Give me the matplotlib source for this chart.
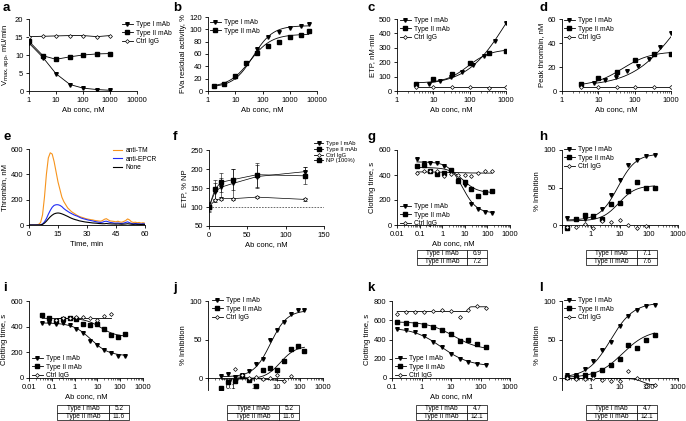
import numpy as np
import matplotlib
matplotlib.use("Agg")
import matplotlib.pyplot as plt
from matplotlib.lines import Line2D

plt.rcParams['font.family'] = ['Liberation Sans', 'DejaVu Sans']
plt.rcParams['font.size'] = 5.5
plt.rcParams['axes.linewidth'] = 0.6

W, H = 686, 421

# ---------------- data ----------------
# a
a_x = [1, 3.3, 10, 33, 100, 330, 1000]
a_t1 = [13.3, 9.3, 4.8, 1.8, 0.8, 0.4, 0.2]
a_t2 = [13.8, 9.8, 8.8, 9.5, 10.0, 10.3, 10.4]
a_ct = [15.1, 15.2, 15.3, 15.4, 15.4, 15.1, 15.4]

# b
b_x = [1.6, 4, 10, 25, 63, 160, 400, 1000, 2500, 5000]
b_t1 = [8, 12, 22, 45, 68, 87, 96, 102, 105, 108]
b_t2 = [8, 11, 25, 46, 61, 73, 80, 87, 91, 97]
b_fit1 = [6, 106, 45, 1.2]   # start, end, mid, hill
b_fit2 = [6, 92, 35, 1.1]

# c / d
cd_x1 = [7.8, 15.6, 31.25, 62.5, 125, 250, 500, 1000]
cd_x2 = [3.3, 10, 33, 100, 330, 1000]
c_t1 = [50, 70, 95, 130, 180, 245, 350, 470]
c_t2 = [50, 80, 120, 195, 265, 275]
c_ct = [25, 25, 28, 25, 22, 25]
c_fit1 = [40, 900, 1000, 0.8]
c_fit2 = [55, 290, 90, 1.4]
d_t1 = [6.5, 9, 12, 17, 21, 27, 37, 48]
d_t2 = [5.5, 10.5, 16, 25.5, 31, 30.5]
d_ct = [3, 3, 3.5, 3.2, 3, 3]
d_fit1 = [4, 100, 1500, 0.7]
d_fit2 = [4, 33, 45, 1.1]

# e
e_t = list(range(61))
e_tm = [0, 0, 0, 0, 2, 5, 20, 80, 220, 400, 530, 570, 560, 500, 420, 340, 280, 220, 185, 160,
        135, 120, 105, 95, 85, 75, 68, 62, 58, 52, 48, 45, 42, 40, 36, 34, 32, 30, 35, 45,
        50, 40, 32, 30, 28, 25, 30, 24, 22, 28, 35, 48, 40, 25, 20, 22, 18, 20, 15, 18, 14]
e_epcr = [0, 0, 0, 0, 0, 0, 2, 8, 25, 50, 85, 115, 140, 155, 160, 160, 155, 145, 130, 118,
          108, 98, 90, 82, 75, 70, 62, 55, 50, 46, 42, 38, 35, 32, 28, 25, 22, 20, 22, 28,
          30, 25, 20, 18, 15, 14, 16, 13, 12, 15, 20, 25, 18, 12, 10, 12, 10, 9, 8, 10, 8]
e_none = [0, 0, 0, 0, 0, 0, 1, 5, 15, 30, 48, 65, 78, 88, 93, 95, 93, 88, 82, 75,
          68, 60, 53, 47, 42, 38, 33, 30, 27, 24, 22, 20, 18, 16, 15, 14, 12, 11, 10, 10,
          12, 10, 9, 8, 8, 7, 8, 7, 6, 7, 8, 10, 8, 6, 5, 6, 5, 5, 4, 5, 4]

# f
f_x = [0, 7.8, 15.6, 31.25, 62.5, 125]
f_t1 = [100, 140, 152, 162, 180, 193]
f_t1e = [12, 22, 25, 37, 30, 12]
f_t2 = [100, 147, 165, 172, 185, 182]
f_t2e = [10, 25, 25, 27, 32, 22]
f_ct = [100, 118, 122, 122, 126, 120]
f_cte = [5, 4, 4, 3, 3, 3]
f_np = 100

# g..l dilution series
dil13 = [0.038, 0.076, 0.15, 0.3, 0.61, 1.2, 2.4, 4.9, 9.8, 19.5, 39, 78, 156]
dil12 = dil13[1:]
dil11 = dil13[2:]

g_t1 = [525, 495, 500, 500, 470, 430, 360, 320, 170, 130, 105, 100]
g_t2 = [470, 480, 430, 410, 420, 440, 350, 345, 285, 235, 265, 270]
g_ct = [415, 430, 430, 430, 390, 410, 400, 400, 395, 415, 435, 430]
g_fit1 = [505, 95, 8.0, 1.4]
g_fit2 = [460, 258, 8.5, 1.4]
g_fitc = [425, 415, 3.0, 1.0]
g_ic50 = ["6.9", "7.2"]

h_t1 = [10, 8, 8, 12, 22, 40, 60, 80, 87, 92, 93]
h_t2 = [-3, 9, 14, 12, 9, 28, 30, 46, 58, 50, 49]
h_ct = [-2, -2, 2, -3, 6, 5, 7, 1, -3, -1]
h_fit1 = [7, 95, 8.5, 1.4]
h_fit2 = [6, 53, 9.0, 1.5]
h_ic50 = ["7.1", "7.6"]

i_t1 = [430, 425, 420, 425, 415, 385, 350, 290, 255, 220, 195, 175, 175]
i_t2 = [490, 465, 445, 460, 465, 460, 420, 410, 420, 385, 335, 320, 345]
i_ct = [455, 465, 470, 475, 475, 470, 455, 480, 500]
i_fit1 = [430, 172, 5.2, 1.1]
i_fit2 = [465, 322, 14, 1.3]
i_ic50 = ["5.2", "11.6"]

j_t1 = [3, 6, 2, 5, 9, 18, 25, 50, 62, 73, 83, 88, 88]
j_t2 = [-12, -5, -3, 3, -2, -10, 11, 13, 11, 22, 38, 42, 35]
j_ct = [12, 5, 0, 2, -1, 1, 5, -3, 3]
j_fit1 = [2, 88, 5.2, 1.2]
j_fit2 = [-1, 42, 14, 1.3]
j_ic50 = ["5.2", "11.6"]

k_t1 = [510, 495, 480, 440, 375, 320, 250, 200, 170, 145, 135]
k_t2 = [580, 570, 565, 555, 530, 500, 460, 380, 400, 355, 320]
k_ct = [660, 690, 685, 685, 700, 710, 700, 635, 710, 745, 730]
k_fit1 = [525, 120, 4.7, 0.9]
k_fit2 = [585, 290, 12.1, 1.0]
k_fitc = [690, 740, 40, 25]
k_ic50 = ["4.7", "12.1"]

l_t1 = [5, 4, 12, 22, 37, 47, 68, 80, 88, 93, 95]
l_t2 = [2, 2, 4, 6, 11, 17, 25, 43, 39, 49, 56]
l_ct = [0, -1, -1, 0, -2, -4, -4, 9, 0, -10, -8]
l_fit1 = [1, 98, 4.7, 1.1]
l_fit2 = [1, 63, 12.1, 1.0]
l_fitc = [0, -9, 60, 3]
l_ic50 = ["4.7", "12.1"]

LABELS = ["Type I mAb", "Type II mAb", "Ctrl IgG"]

# ---------------- helpers ----------------
fig = plt.figure(figsize=(W / 100, H / 100), dpi=100)


def add_ax(x0, y0, x1, y1):
    return fig.add_axes([x0 / W, 1 - y1 / H, (x1 - x0) / W, (y1 - y0) / H])


def style(ax):
    for s in ['top', 'right']:
        ax.spines[s].set_visible(False)
    ax.tick_params(length=2.5, width=0.6, pad=1.5, labelsize=5.5)
    ax.tick_params(which='minor', length=1.5, width=0.4)


def logistic(x, p):
    x = np.asarray(x, float)
    s, e, m, h = p
    return s + (e - s) * x ** h / (x ** h + m ** h)


def fit_line(ax, xs, p):
    xx = np.logspace(np.log10(min(xs)), np.log10(max(xs)), 200)
    ax.plot(xx, logistic(xx, p), color='black', lw=0.6, zorder=2)


MK = dict(t1=dict(marker='v', ms=2.6, mfc='black', mec='black'),
          t2=dict(marker='s', ms=2.6, mfc='black', mec='black'),
          ct=dict(marker='D', ms=2.0, mfc='white', mec='black', mew=0.5))


def pts(ax, x, y, key, line=False):
    ax.plot(x, y, ls='-' if line else 'none', color='black', lw=0.6, zorder=3, **MK[key])


def handles():
    return [Line2D([], [], color='black', lw=0.6, **MK[k]) for k in ['t1', 't2', 'ct']]


def legend(ax, x, y, loc='upper left', h=None, labels=LABELS, fs=4.8, sp=0.25):
    ax.legend(h or handles(), labels, loc=loc, bbox_to_anchor=(x / W, 1 - y / H),
              bbox_transform=fig.transFigure, frameon=False, fontsize=fs,
              handlelength=1.6, handletextpad=0.5, labelspacing=sp, borderpad=0,
              borderaxespad=0)


def letter(x, y, s):
    fig.text(x / W, 1 - y / H, s, fontsize=9.5, fontweight='bold', va='top', ha='left')


def ic_table(x0, y0, x1, y1, vals):
    tax = add_ax(x0, y0, x1, y1)
    tax.axis('off')
    t = tax.table(cellText=[["Type I mAb", vals[0]], ["Type II mAb", vals[1]]],
                  colWidths=[0.72, 0.28], cellLoc='center', bbox=[0, 0, 1, 1])
    t.auto_set_font_size(False)
    t.set_fontsize(4.7)
    for (r, c), cell in t.get_celld().items():
        cell.set_linewidth(0.5)
        if c == 0:
            cell._loc = 'left'
            cell.PAD = 0.04


def logx(ax, lo, hi, labels):
    ax.set_xscale('log')
    ax.set_xlim(lo, hi)
    ticks = [10.0 ** k for k in range(int(round(np.log10(lo))), int(round(np.log10(hi))) + 1)]
    ax.set_xticks(ticks)
    ax.set_xticklabels(labels)
    ax.xaxis.set_minor_locator(matplotlib.ticker.LogLocator(subs=np.arange(2, 10)))
    ax.xaxis.set_minor_formatter(matplotlib.ticker.NullFormatter())


# ---------------- a ----------------
ax = add_ax(29, 19, 137, 91)
style(ax)
logx(ax, 1, 10000, ["1", "10", "100", "1000", "10000"])
ax.set_ylim(0, 20)
ax.set_yticks([0, 5, 10, 15, 20])
pts(ax, a_x, a_ct, 'ct', True)
pts(ax, a_x, a_t2, 't2', True)
pts(ax, a_x, a_t1, 't1', True)
ax.set_xlabel("Ab conc, nM", labelpad=2)
ax.set_ylabel(r"V$_{\mathrm{max,app}}$, mU/min", labelpad=2)
legend(ax, 122, 21)
letter(3, 2, "a")

# ---------------- b ----------------
ax = add_ax(208, 17, 317, 91)
style(ax)
logx(ax, 1, 10000, ["1", "10", "100", "1000", "10000"])
ax.set_ylim(0, 120)
ax.set_yticks(range(0, 121, 20))
fit_line(ax, b_x, b_fit1)
fit_line(ax, b_x, b_fit2)
pts(ax, b_x, b_t1, 't1')
pts(ax, b_x, b_t2, 't2')
ax.set_xlabel("Ab conc, nM", labelpad=2)
ax.set_ylabel("FVa residual activity, %", labelpad=2)
legend(ax, 210, 19, h=handles()[:2], labels=LABELS[:2])
letter(173, 2, "b")

# ---------------- c ----------------
ax = add_ax(397, 19, 506, 91)
style(ax)
logx(ax, 1, 1000, ["1", "10", "100", "1000"])
ax.set_ylim(0, 500)
ax.set_yticks(range(0, 501, 100))
fit_line(ax, cd_x1, c_fit1)
fit_line(ax, cd_x2, c_fit2)
ax.plot([min(cd_x2), max(cd_x2)], [np.mean(c_ct)] * 2, color='black', lw=0.6)
pts(ax, cd_x1, c_t1, 't1')
pts(ax, cd_x2, c_t2, 't2')
pts(ax, cd_x2, c_ct, 'ct')
ax.set_xlabel("Ab conc, nM", labelpad=2)
ax.set_ylabel("ETP, nM·min", labelpad=2)
legend(ax, 400, 17)
letter(367, 2, "c")

# ---------------- d ----------------
ax = add_ax(562, 19, 671, 91)
style(ax)
logx(ax, 1, 1000, ["1", "10", "100", "1000"])
ax.set_ylim(0, 60)
ax.set_yticks([0, 20, 40, 60])
fit_line(ax, cd_x1, d_fit1)
fit_line(ax, cd_x2, d_fit2)
ax.plot([min(cd_x2), max(cd_x2)], [np.mean(d_ct)] * 2, color='black', lw=0.6)
pts(ax, cd_x1, d_t1, 't1')
pts(ax, cd_x2, d_t2, 't2')
pts(ax, cd_x2, d_ct, 'ct')
ax.set_xlabel("Ab conc, nM", labelpad=2)
ax.set_ylabel("Peak thrombin, nM", labelpad=2)
legend(ax, 564, 17)
letter(539, 2, "d")

# ---------------- e ----------------
ax = add_ax(29, 149, 145, 225)
style(ax)
ax.set_xlim(0, 60)
ax.set_ylim(0, 600)
ax.set_xticks([0, 15, 30, 45, 60])
ax.set_yticks([0, 200, 400, 600])
ax.plot(e_t, e_tm, color='#f7941d', lw=0.8, label='anti-TM')
ax.plot(e_t, e_epcr, color='#1f2cf5', lw=0.8, label='anti-EPCR')
ax.plot(e_t, e_none, color='black', lw=0.8, label='None')
ax.set_xlabel("Time, min", labelpad=2)
ax.set_ylabel("Thrombin, nM", labelpad=2)
ax.legend(loc='upper left', bbox_to_anchor=(113 / W, 1 - 147 / H), bbox_transform=fig.transFigure,
          frameon=False, fontsize=4.8, handlelength=1.4, handletextpad=0.5, labelspacing=0.25,
          borderpad=0, borderaxespad=0)
letter(3, 131, "e")

# ---------------- f ----------------
ax = add_ax(209, 150, 324, 226)
style(ax)
ax.set_xlim(0, 150)
ax.set_ylim(50, 250)
ax.set_xticks([0, 50, 100, 150])
ax.set_yticks(range(50, 251, 50))
ax.axhline(f_np, color='#555555', lw=0.6, ls=(0, (2, 1.5)))
for y, e, k in [(f_ct, f_cte, 'ct'), (f_t2, f_t2e, 't2'), (f_t1, f_t1e, 't1')]:
    ax.errorbar(f_x, y, yerr=e, color='black', lw=0.5, elinewidth=0.4, capsize=1.2,
                capthick=0.4, zorder=3, **MK[k])
npk = dict(marker='s', ms=2.6, mfc='black', mec='black')
ax.plot([0], [f_np], ls='none', color='black', **npk)
ax.set_xlabel("Ab conc, nM", labelpad=2)
ax.set_ylabel("ETP, % NP", labelpad=2)
legend(ax, 314, 141, h=handles() + [Line2D([], [], color='black', lw=0.6, **npk)],
       labels=LABELS + ["NP (100%)"], fs=4.2, sp=0.12)
letter(173, 131, "f")

# ---------------- g ----------------
ax = add_ax(397, 150, 510, 225)
style(ax)
logx(ax, 0.01, 1000, ["0.01", "0.1", "1", "10", "100", "1000"])
ax.set_ylim(0, 600)
ax.set_yticks([0, 200, 400, 600])
fit_line(ax, dil12, g_fit1)
fit_line(ax, dil12, g_fit2)
fit_line(ax, dil12, g_fitc)
pts(ax, dil12, g_t1, 't1')
pts(ax, dil12, g_t2, 't2')
pts(ax, dil12, g_ct, 'ct')
ax.set_xlabel("Ab conc, nM", labelpad=2)
ax.set_ylabel("Clotting time, s", labelpad=2)
legend(ax, 400, 203)
ic_table(417, 250, 487, 265, g_ic50)
letter(367, 131, "g")

# ---------------- h ----------------
ax = add_ax(562, 150, 678, 233)
style(ax)
logx(ax, 0.1, 1000, ["", "1", "10", "100", "1000"])
ax.set_ylim(-10, 100)
ax.set_yticks([0, 50, 100])
ax.spines['bottom'].set_position(('data', 0))
fit_line(ax, dil11, h_fit1)
fit_line(ax, dil11, h_fit2)
pts(ax, dil11, h_t1, 't1')
pts(ax, dil11, h_t2, 't2')
pts(ax, dil11[:-1], h_ct, 'ct')
ax.set_xlabel("Ab conc, nM", labelpad=10)
ax.set_ylabel("% Inhibition", labelpad=2)
legend(ax, 564, 146)
ic_table(586, 250, 657, 265, h_ic50)
letter(539, 131, "h")

# ---------------- i ----------------
ax = add_ax(29, 301, 143, 378)
style(ax)
logx(ax, 0.01, 1000, ["0.01", "0.1", "1", "10", "100", "1000"])
ax.set_ylim(0, 600)
ax.set_yticks([0, 200, 400, 600])
fit_line(ax, dil13, i_fit1)
fit_line(ax, dil13, i_fit2)
ax.plot([dil13[2], dil13[-3]], [470, 470], color='black', lw=0.6)
pts(ax, dil13, i_t1, 't1')
pts(ax, dil13, i_t2, 't2')
pts(ax, dil13[2:-2], i_ct, 'ct')
ax.set_xlabel("Ab conc, nM", labelpad=2)
ax.set_ylabel("Clotting time, s", labelpad=2)
legend(ax, 32, 355)
ic_table(57, 405, 129, 420, i_ic50)
letter(3, 282, "i")

# ---------------- j ----------------
ax = add_ax(208, 301, 323, 390)
style(ax)
logx(ax, 0.01, 1000, ["", "0.1", "1", "10", "100", "1000"])
ax.set_ylim(-15, 100)
ax.set_yticks([0, 50, 100])
ax.spines['bottom'].set_position(('data', 0))
fit_line(ax, dil13, j_fit1)
fit_line(ax, dil13, j_fit2)
ax.plot([dil13[2], dil13[-4]], [2, -3], color='black', lw=0.6)
pts(ax, dil13, j_t1, 't1')
pts(ax, dil13, j_t2, 't2')
pts(ax, dil13[2:-2], j_ct, 'ct')
ax.set_xlabel("Ab conc, nM", labelpad=14)
ax.set_ylabel("% Inhibition", labelpad=2)
legend(ax, 212, 297)
ic_table(227, 405, 299, 420, j_ic50)
letter(173, 282, "j")

# ---------------- k ----------------
ax = add_ax(392, 301, 510, 378)
style(ax)
logx(ax, 0.1, 1000, ["0.1", "1", "10", "100", "1000"])
ax.set_ylim(0, 800)
ax.set_yticks(range(0, 801, 200))
fit_line(ax, dil11, k_fit1)
fit_line(ax, dil11, k_fit2)
fit_line(ax, dil11, k_fitc)
pts(ax, dil11, k_t1, 't1')
pts(ax, dil11, k_t2, 't2')
pts(ax, dil11, k_ct, 'ct')
ax.set_xlabel("Ab conc, nM", labelpad=2)
ax.set_ylabel("Clotting time, s", labelpad=2)
legend(ax, 395, 355)
ic_table(416, 405, 487, 420, k_ic50)
letter(367, 282, "k")

# ---------------- l ----------------
ax = add_ax(562, 301, 678, 390)
style(ax)
logx(ax, 0.1, 1000, ["", "1", "10", "100", "1000"])
ax.set_ylim(-15, 100)
ax.set_yticks([0, 50, 100])
ax.spines['bottom'].set_position(('data', 0))
fit_line(ax, dil11, l_fit1)
fit_line(ax, dil11, l_fit2)
fit_line(ax, dil11, l_fitc)
pts(ax, dil11, l_t1, 't1')
pts(ax, dil11, l_t2, 't2')
pts(ax, dil11, l_ct, 'ct')
ax.set_xlabel("Ab conc, nM", labelpad=14)
ax.set_ylabel("% Inhibition", labelpad=2)
legend(ax, 564, 297)
ic_table(586, 405, 657, 420, l_ic50)
letter(539, 282, "l")

fig.savefig("out.png", dpi=100)
